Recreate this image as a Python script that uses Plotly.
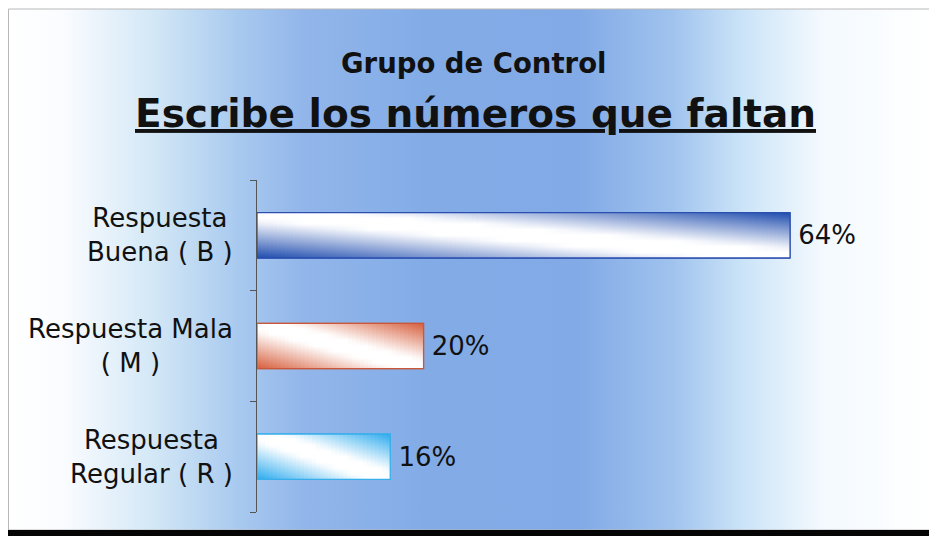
import math
import plotly.graph_objects as go

# --- Datos ---
categorias = ["Respuesta<br>Buena ( B )", "Respuesta Mala<br>( M )", "Respuesta<br>Regular ( R )"]
valores = [64, 20, 16]
etiquetas = [f"\u2009{v}%" for v in valores]
titulo = "Grupo de Control"
subtitulo = "Escribe los números que faltan"

# --- Estilos ---
color_oscuro = ["#1f4cae", "#d65e3c", "#2caaee"]
color_borde = ["#2b4fae", "#c9583a", "#3aaeea"]
fondo_stops = [
    (0.00, "#ffffff"), (0.06, "#fafcff"), (0.16, "#d2e7f6"), (0.25, "#a8c9ef"),
    (0.32, "#92b6ea"), (0.45, "#83ace7"), (0.62, "#82aae6"), (0.72, "#a0c3ee"),
    (0.80, "#cde5f8"), (0.88, "#f3f9fe"), (1.00, "#ffffff"),
]
# la página deja 8 px de margen en el body: figura un poco más pequeña
W, H = 929, 528
OFF = 8
ancho_barra = 0.41
x_max = 77.2
px_por_unidad = (892 - 249) / x_max


def hex2rgb(h):
    return tuple(int(h[i:i + 2], 16) for i in (1, 3, 5))


def mezcla(c1, c2, t):
    a, b = hex2rgb(c1), hex2rgb(c2)
    return "rgb({},{},{})".format(*[round(a[i] + (b[i] - a[i]) * t) for i in range(3)])


def degradado(oscuro, t):
    # diagonal: oscuro -> blanco (franja ancha) -> oscuro
    if t <= 0.42:
        return mezcla(oscuro, "#ffffff", t / 0.42)
    if t >= 0.58:
        return mezcla("#ffffff", oscuro, (t - 0.58) / 0.42)
    return "#ffffff"


posiciones = list(range(len(valores)))[::-1]

fig = go.Figure()

# fondo degradado (ejes x/y ocultos que cubren el marco)
fig.add_trace(go.Scatter(
    x=[0, 1, 1, 0, 0], y=[0, 0, 1, 1, 0],
    fill="toself", mode="lines", line=dict(width=0),
    fillgradient=dict(type="horizontal", colorscale=[[s, c] for s, c in fondo_stops]),
    hoverinfo="skip", showlegend=False, xaxis="x", yaxis="y",
))

# barras
fig.add_trace(go.Bar(
    x=valores, y=posiciones, orientation="h", width=ancho_barra,
    marker=dict(color="white", line=dict(color=color_borde, width=1)),
    text=etiquetas, textposition="outside", cliponaxis=False,
    textfont=dict(family="DejaVu Sans", size=26, color="#111111"),
    hoverinfo="skip", showlegend=False, xaxis="x2", yaxis="y2",
))

# relleno degradado diagonal de cada barra
for v, p, osc, borde in zip(valores, posiciones, color_oscuro, color_borde):
    y0, y1 = p - ancho_barra / 2, p + ancho_barra / 2
    n_seg = max(10, math.ceil(v * px_por_unidad / 4))
    paso = v / n_seg
    for k in range(n_seg):
        xa = k * paso
        xb = min((k + 1.6) * paso, v)
        xf = (k + 0.5) / n_seg
        escala = [[s / 8, degradado(osc, (xf + s / 8) / 2)] for s in range(9)]
        fig.add_trace(go.Scatter(
            x=[xa, xb, xb, xa, xa], y=[y0, y0, y1, y1, y0],
            fill="toself", mode="lines", line=dict(width=0),
            fillgradient=dict(type="vertical", colorscale=escala),
            hoverinfo="skip", showlegend=False, xaxis="x2", yaxis="y2",
        ))
    fig.add_trace(go.Scatter(
        x=[0, v, v, 0, 0], y=[y0, y0, y1, y1, y0],
        mode="lines", line=dict(color=borde, width=1.3),
        hoverinfo="skip", showlegend=False, xaxis="x2", yaxis="y2",
    ))

# etiquetas de categoría centradas
for cat, p in zip(categorias, posiciones):
    fig.add_annotation(
        text=cat, xref="x2 domain", x=0, xanchor="right", xshift=-22,
        yref="y2", y=p, yanchor="middle", align="center", showarrow=False,
        font=dict(family="DejaVu Sans", size=26, color="#111111"),
    )

fig.add_annotation(
    text=f"<b>{titulo}</b>", xref="paper", yref="paper",
    x=(473 - OFF) / W, y=1 - (63 - OFF) / H,
    xanchor="center", yanchor="middle", showarrow=False,
    font=dict(family="DejaVu Sans", size=27.5, color="#111111"),
)
fig.add_annotation(
    text=f"<b><u>{subtitulo}</u></b>", xref="paper", yref="paper",
    x=(475 - OFF) / W, y=1 - (114 - OFF) / H,
    xanchor="center", yanchor="middle", showarrow=False,
    font=dict(family="DejaVu Sans", size=39, color="#111111"),
)

limites = [p - 0.5 for p in posiciones] + [max(posiciones) + 0.5]

fig.update_layout(
    width=W, height=H,
    margin=dict(l=0, r=0, t=0, b=0),
    paper_bgcolor="white", plot_bgcolor="rgba(0,0,0,0)",
    xaxis=dict(domain=[0, (931 - OFF) / W], range=[0, 1], visible=False, fixedrange=True),
    yaxis=dict(domain=[6 / H, 1 - (9 - OFF) / H], range=[0, 1], visible=False, fixedrange=True),
    xaxis2=dict(domain=[(257 - OFF) / W, (900 - OFF) / W], range=[0, x_max],
                visible=False, anchor="y2"),
    yaxis2=dict(
        domain=[1 - (512 - OFF) / H, 1 - (180 - OFF) / H], range=[-0.5, len(valores) - 0.5],
        anchor="x2", showline=True, linecolor="#555555", linewidth=1,
        tickmode="array", tickvals=limites, ticks="outside", ticklen=6,
        tickcolor="#555555", showticklabels=False, showgrid=False, zeroline=False,
    ),
    shapes=[
        dict(type="rect", xref="paper", yref="paper", x0=0.5 / W, x1=(931 - OFF) / W,
             y0=6 / H, y1=1 - (9 - OFF) / H, line=dict(color="#b8b8b8", width=1)),
        dict(type="rect", xref="paper", yref="paper", x0=0, x1=1, y0=0, y1=6 / H,
             fillcolor="#050505", line=dict(width=0)),
    ],
)

fig.write_html("out.html")
